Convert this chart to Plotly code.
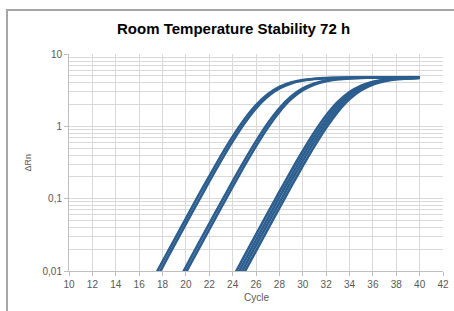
import plotly.graph_objects as go

cycles = list(range(14, 41))

# Group A (earliest Ct)
curve_a1 = [0.000856, 0.001707, 0.003400, 0.006771, 0.013477, 0.026785, 0.053085, 0.10464, 0.20409, 0.39011,
            0.71889, 1.24551, 1.96953, 2.78047, 3.50450, 4.03109, 4.35988, 4.54589, 4.64535, 4.69692,
            4.72321, 4.73652, 4.74323, 4.7465, 4.7482, 4.7491, 4.7495]
curve_a2 = [0.000721, 0.001437, 0.002862, 0.005700, 0.011348, 0.022563, 0.044757, 0.088377, 0.17294, 0.33265,
            0.61990, 1.09369, 1.77411, 2.57924, 3.33973, 3.91950, 4.29354, 4.50946, 4.62620, 4.68707,
            4.71821, 4.7340, 4.7420, 4.7459, 4.7479, 4.7489, 4.7494]
# Group B
curve_b1 = [0.000181, 0.000362, 0.000721, 0.001437, 0.002862, 0.005700, 0.011348, 0.022563, 0.044757, 0.088377,
            0.17294, 0.33265, 0.61990, 1.09369, 1.77411, 2.57924, 3.33973, 3.91950, 4.29354, 4.50946,
            4.62620, 4.68707, 4.71821, 4.7340, 4.7420, 4.7459, 4.7479]
curve_b2 = [0.000153, 0.000304, 0.000607, 0.001209, 0.002409, 0.004798, 0.009554, 0.019004, 0.037725, 0.074600,
            0.14640, 0.28311, 0.53273, 0.95531, 1.58701, 2.375, 3.16300, 3.79469, 4.21725, 4.46689,
            4.60361, 4.67540, 4.71227, 4.73100, 4.74045, 4.74520, 4.74759]
# Group C (cycles 20..40, earlier cycles not recorded)
curve_c1 = [None] * 6 + [0.000511, 0.001018, 0.002028, 0.004039, 0.008044, 0.016004, 0.031792, 0.062939, 0.12382,
            0.24054, 0.45647, 0.83051, 1.41029, 2.17075, 2.97589, 3.65629, 4.13011, 4.41733, 4.57708,
            4.66162, 4.70524]
curve_c2 = [None] * 6 + [0.000430, 0.000856, 0.001707, 0.003400, 0.006771, 0.013477, 0.026785, 0.053085, 0.10464,
            0.20409, 0.39011, 0.71889, 1.24551, 1.96953, 2.78047, 3.50450, 4.03109, 4.35988, 4.54589,
            4.64535, 4.69692]
curve_c3 = [None] * 6 + [0.000362, 0.000721, 0.001437, 0.002862, 0.005700, 0.011348, 0.022563, 0.044757, 0.088377,
            0.17294, 0.33265, 0.61990, 1.09369, 1.77411, 2.57924, 3.33973, 3.91950, 4.29354, 4.50946,
            4.62620, 4.68707]
curve_c4 = [None] * 6 + [0.000304, 0.000607, 0.001209, 0.002409, 0.004798, 0.009554, 0.019004, 0.037725, 0.074600,
            0.14640, 0.28311, 0.53273, 0.95531, 1.58701, 2.375, 3.16300, 3.79469, 4.21725, 4.46689,
            4.60361, 4.67540]

curves = [curve_a1, curve_a2, curve_b1, curve_b2, curve_c1, curve_c2, curve_c3, curve_c4]

x_ticks = list(range(10, 43, 2))
y_tickvals = [0.01, 0.1, 1, 10]
y_ticktext = ["0,01", "0,1", "1", "10"]

LINE = "#2b5d8e"
GRID = "#d9d9d9"
AXIS = "#bfbfbf"
TXT = "#595959"

fig = go.Figure()
for c in curves:
    fig.add_trace(go.Scatter(x=cycles, y=c, mode="lines",
                             line=dict(color=LINE, width=2.6, shape="spline", smoothing=0.6),
                             showlegend=False, hoverinfo="skip", connectgaps=False))

fig.update_layout(
    width=454, height=311,
    margin=dict(l=69, r=11, t=54, b=40),
    paper_bgcolor="white", plot_bgcolor="white",
    font=dict(family="Liberation Sans, Arial, sans-serif", size=10, color=TXT),
    showlegend=False,
    xaxis=dict(range=[10, 42], tickvals=x_ticks, ticktext=[str(v) for v in x_ticks],
               showgrid=True, gridcolor=GRID, gridwidth=1, automargin=False,
               showline=True, linecolor=AXIS, linewidth=1,
               ticks="outside", ticklen=4, tickcolor=AXIS, zeroline=False),
    yaxis=dict(type="log", range=[-2, 1], tickvals=y_tickvals, ticktext=y_ticktext,
               showgrid=True, gridcolor=GRID, gridwidth=1, automargin=False,
               showline=True, linecolor=AXIS, linewidth=1,
               ticks="outside", ticklen=4, tickcolor=AXIS, zeroline=False,
               minor=dict(dtick="D1", showgrid=True, gridcolor=GRID, ticks="")),
    shapes=[dict(type="rect", xref="paper", yref="paper",
                 x0=-0.1658, x1=1.2, y0=-0.5, y1=1.2028,
                 line=dict(color="#a6a6a6", width=2), fillcolor="rgba(0,0,0,0)", layer="below")],
    annotations=[
        dict(text="<b>Room Temperature Stability 72 h</b>", xref="paper", yref="paper",
             x=0.44, y=1.1175, xanchor="center", yanchor="middle", showarrow=False,
             font=dict(size=15, color="#000000", family="Liberation Sans, Arial, sans-serif")),
        dict(text="Cycle", xref="paper", yref="paper", x=0.5, y=-0.124,
             xanchor="center", yanchor="middle", showarrow=False,
             font=dict(size=10, color=TXT)),
        dict(text="ΔRn", xref="paper", yref="paper", x=-0.112, y=0.5, textangle=-90,
             xanchor="center", yanchor="middle", showarrow=False,
             font=dict(size=9, color=TXT)),
    ],
)

fig.write_html("out.html", config={"displayModeBar": False},
               post_script="document.body.style.margin='0';document.body.style.overflow='hidden';")
